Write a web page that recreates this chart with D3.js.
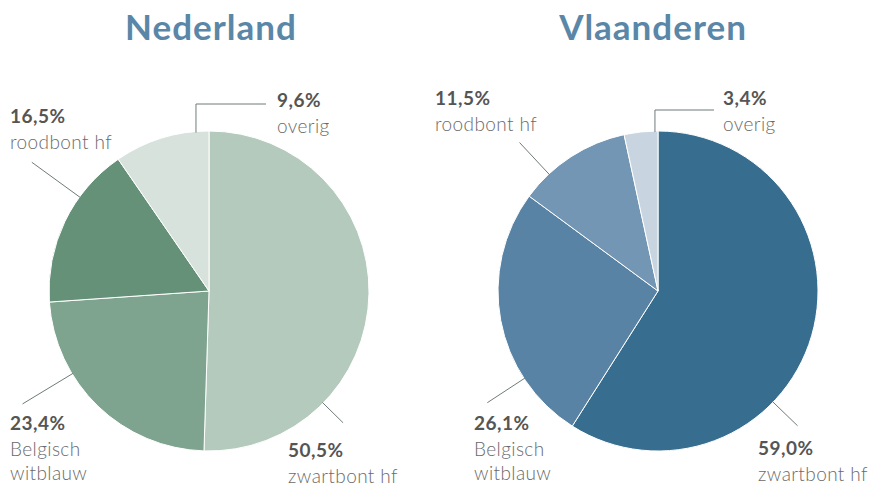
<!DOCTYPE html>
<html>
<head>
<meta charset="utf-8">
<script src="https://cdn.jsdelivr.net/npm/d3@7"></script>
<style>
  body { margin: 0; background: #fff; }
  svg { display: block; font-family: Lato, "Open Sans", sans-serif; }
</style>
</head>
<body>
<svg id="chart"></svg>
<script>
// data
const categories = ["zwartbont hf", "Belgisch witblauw", "roodbont hf", "overig"];
const nederland = [50.5, 23.4, 16.5, 9.6];
const vlaanderen = [59.0, 26.1, 11.5, 3.4];
const titles = ["Nederland", "Vlaanderen"];

const nlColors = ["#b4cabd", "#7ea38e", "#659179", "#d7e2dc"];
const vlColors = ["#376e8f", "#5983a4", "#7296b3", "#c8d5e1"];

const width = 871, height = 486, radius = 160;

const svg = d3.select("#chart")
  .attr("width", width)
  .attr("height", height);

// per pie: centre, title x, and for each slice: leader angle (deg), outer radius, label pos
const layouts = [
  {
    cx: 209, cy: 291, titleX: 211, colors: nlColors, values: nederland,
    labels: [
      { ang: 134.5, r2: 188, x: 288, y: 457 },
      { ang: 238.8, r2: 218, x: 10, y: 430 },
      { ang: 306, r2: 219, x: 10, y: 123 },
      { ang: 355.3, elbowY: 104, elbowX: 266, x: 277, y: 107 }
    ]
  },
  {
    cx: 658, cy: 291, titleX: 653, colors: vlColors, values: vlaanderen,
    labels: [
      { ang: 134, r2: 194, x: 758, y: 455 },
      { ang: 236.8, r2: 204, x: 474, y: 430 },
      { ang: 317, r2: 203, x: 435, y: 105 },
      { ang: 358.9, elbowY: 110, elbowX: 714, x: 723, y: 105 }
    ]
  }
];

const pie = d3.pie().sort(null).value(d => d);
const arc = d3.arc().innerRadius(0).outerRadius(radius);
const fmt = v => d3.format(".1f")(v).replace(".", ",") + "%";

layouts.forEach((L, i) => {
  svg.append("text")
    .attr("x", L.titleX)
    .attr("y", 40)
    .attr("text-anchor", "middle")
    .attr("font-size", 35)
    .attr("font-weight", 700)
    .attr("letter-spacing", 1)
    .attr("fill", "#5a87a7")
    .text(titles[i]);

  const g = svg.append("g").attr("transform", `translate(${L.cx},${L.cy})`);

  g.selectAll("path")
    .data(pie(L.values))
    .join("path")
      .attr("d", arc)
      .attr("fill", (d, j) => L.colors[j])
      .attr("stroke", "#fff")
      .attr("stroke-width", 1);

  // leader lines
  L.labels.forEach((lb, j) => {
    const a = lb.ang * Math.PI / 180;
    const p1 = d3.pointRadial(a, radius - 1);
    let pts;
    if (lb.elbowY != null) {
      pts = [p1, [p1[0], lb.elbowY - L.cy], [lb.elbowX - L.cx, lb.elbowY - L.cy]];
    } else {
      pts = [p1, d3.pointRadial(a, lb.r2)];
    }
    g.append("path")
      .attr("d", d3.line()(pts))
      .attr("fill", "none")
      .attr("stroke", "#6f7b79")
      .attr("stroke-width", 1);

    const t = svg.append("text").attr("x", lb.x).attr("y", lb.y);
    t.append("tspan")
      .attr("x", lb.x)
      .attr("font-size", 19)
      .attr("font-weight", 700)
      .attr("letter-spacing", 0.5)
      .attr("fill", "#555")
      .text(fmt(L.values[j]));
    const name = categories[j];
    const lines = name === "Belgisch witblauw" ? ["Belgisch", "witblauw"] : [name];
    lines.forEach((ln, k) => {
      t.append("tspan")
        .attr("x", lb.x)
        .attr("dy", k === 0 ? 25.5 : 24)
        .attr("font-size", 19)
        .attr("font-weight", 300)
        .attr("letter-spacing", 0.4)
        .attr("fill", "#6a6a6a")
        .text(ln);
    });
  });
});
</script>
</body>
</html>
